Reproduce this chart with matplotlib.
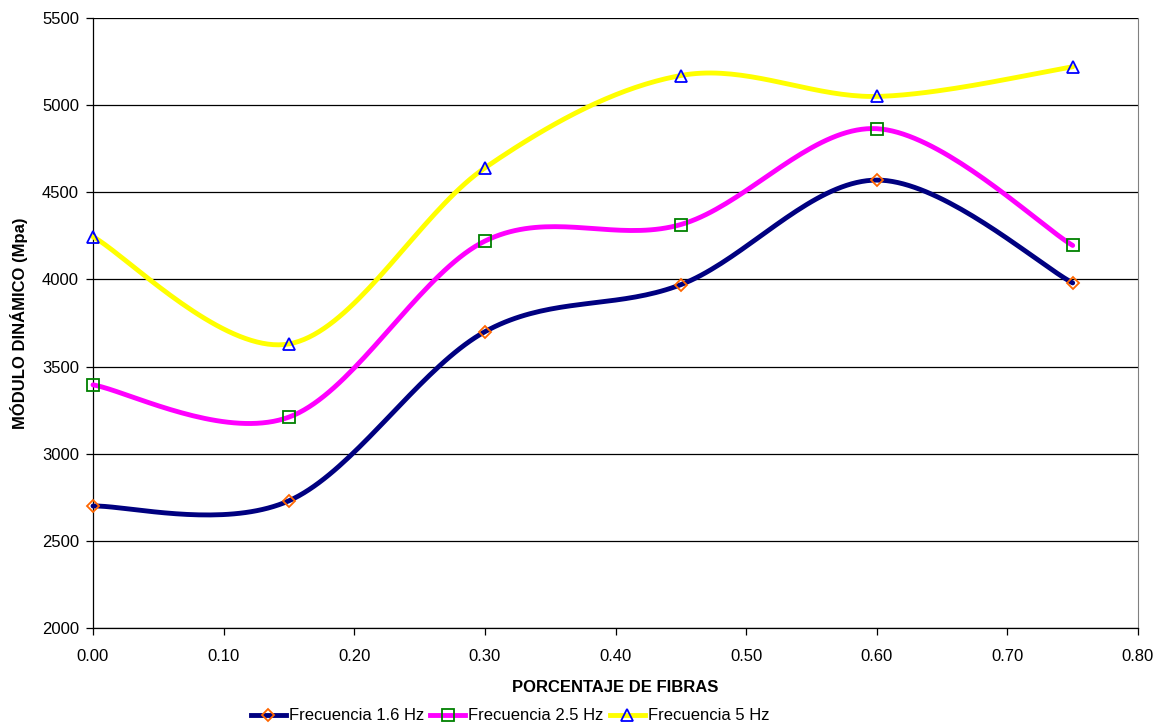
import numpy as np
import matplotlib
matplotlib.use("Agg")
import matplotlib.pyplot as plt
from matplotlib.lines import Line2D

plt.rcParams['font.family'] = ['Liberation Sans', 'DejaVu Sans']

x = [0.00, 0.15, 0.30, 0.45, 0.60, 0.75]
f16 = [2700, 2730, 3700, 3970, 4570, 3980]
f25 = [3395, 3210, 4220, 4315, 4865, 4195]
f5 = [4245, 3630, 4640, 5170, 5050, 5220]
labels = ["Frecuencia 1.6 Hz", "Frecuencia 2.5 Hz", "Frecuencia 5 Hz"]
xticks = [0.00, 0.10, 0.20, 0.30, 0.40, 0.50, 0.60, 0.70, 0.80]
yticks = [2000, 2500, 3000, 3500, 4000, 4500, 5000, 5500]


def smooth(xs, ys, n=40):
    xs = np.asarray(xs, float)
    ys = np.asarray(ys, float)
    # work in normalized (screen-like) coordinates
    sx = 1.0 / 0.8
    sy = 1.0 / 3500 * (610 / 1045)
    px = xs * sx
    py = ys * sy
    P = np.column_stack([px, py])
    Pe = np.vstack([P[0], P, P[-1]])
    out = []
    for i in range(len(P) - 1):
        p0, p1, p2, p3 = Pe[i], Pe[i + 1], Pe[i + 2], Pe[i + 3]
        c1 = p1 + (p2 - p0) / 6.0
        c2 = p2 - (p3 - p1) / 6.0
        t = np.linspace(0, 1, n)[:, None]
        b = ((1 - t) ** 3) * p1 + 3 * ((1 - t) ** 2) * t * c1 + 3 * (1 - t) * t ** 2 * c2 + t ** 3 * p2
        out.append(b if i == 0 else b[1:])
    B = np.vstack(out)
    return B[:, 0] / sx, B[:, 1] / sy


fig = plt.figure(figsize=(11.6, 7.28), dpi=100)
ax = fig.add_axes([93 / 1160, 1 - 628 / 728, (1138 - 93) / 1160, (628 - 18) / 728])

series = [
    (f16, '#000080', 'D', '#FF6600', 6),
    (f25, '#FF00FF', 's', '#008000', 8),
    (f5, '#FFFF00', '^', '#0000FF', 9),
]
handles = []
for (ys, lc, mk, mc, ms), lab in zip(series, labels):
    sxv, syv = smooth(x, ys)
    ax.plot(sxv, syv, color=lc, lw=3.5, zorder=3, solid_capstyle='round', clip_on=False)
    ax.plot(x, ys, ls='none', marker=mk, ms=ms, mfc='none', mec=mc, mew=1.3, zorder=4, clip_on=False)
    handles.append(Line2D([0], [0], color=lc, lw=3.5, marker=mk, ms=ms, mfc='none', mec=mc, mew=1.3))

ax.set_xlim(0, 0.8)
ax.set_ylim(2000, 5500)
ax.set_xticks(xticks)
ax.set_xticklabels([f"{v:.2f}" for v in xticks])
ax.set_yticks(yticks)
ax.yaxis.grid(True, color='black', lw=0.9)
ax.set_axisbelow(True)
ax.tick_params(direction='out', length=5, width=0.9, labelsize=12)
ax.tick_params(axis='x', pad=10)
ax.tick_params(axis='y', pad=5)
ax.spines['top'].set_visible(False)
ax.spines['right'].set_color('#808080')
ax.spines['left'].set_linewidth(0.9)
ax.spines['bottom'].set_linewidth(0.9)

ax.set_xlabel("PORCENTAJE DE FIBRAS", fontsize=12, fontweight='bold', labelpad=12)
ax.set_ylabel("MÓDULO DINÁMICO (Mpa)", fontsize=12, fontweight='bold', labelpad=10)

fig.legend(handles, labels, loc='center', bbox_to_anchor=(510 / 1160, 1 - 716 / 728), ncol=3,
           frameon=False, fontsize=12, handlelength=2.1, handletextpad=0.18, columnspacing=0.36,
           borderaxespad=0)

fig.savefig("out.png", dpi=100)
